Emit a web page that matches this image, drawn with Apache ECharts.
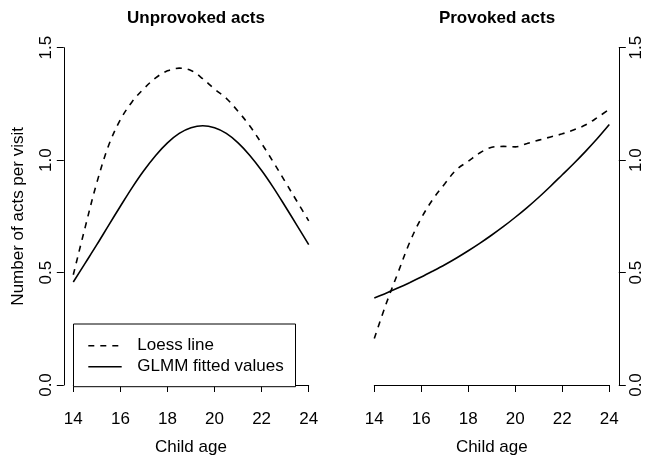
<!DOCTYPE html>
<html><head><meta charset="utf-8">
<script src="https://cdn.jsdelivr.net/npm/echarts@6/dist/echarts.min.js"></script>
<style>html,body{margin:0;padding:0;background:#fff}#c{width:647px;height:461px}</style>
</head><body><div id="c"></div>
<script>
// ---- data ----
const ages = [14,14.5,15,15.5,16,16.5,17,17.5,18,18.5,19,19.5,20,20.5,21,21.5,22,22.5,23,23.5,24];
const unprovokedLoess = [0.49,0.70,0.90,1.065,1.18,1.26,1.318,1.366,1.397,1.409,1.399,1.362,1.316,1.275,1.217,1.152,1.074,0.991,0.904,0.817,0.73];
const unprovokedGLMM  = [0.458,0.541,0.624,0.710,0.795,0.878,0.954,1.021,1.077,1.119,1.144,1.153,1.144,1.119,1.077,1.021,0.954,0.878,0.795,0.710,0.624];
const provokedLoess   = [0.207,0.36,0.497,0.633,0.742,0.827,0.895,0.958,0.995,1.033,1.057,1.061,1.059,1.074,1.089,1.103,1.117,1.135,1.157,1.19,1.226];
const provokedGLMM    = [0.387,0.408,0.431,0.455,0.480,0.507,0.535,0.565,0.597,0.631,0.667,0.705,0.746,0.789,0.835,0.884,0.935,0.986,1.040,1.097,1.158];
const xMin = 14, xMax = 24, xStep = 2;
const yMin = 0, yMax = 1.5, yStep = 0.5;
const yTickLabels = ['0.0','0.5','1.0','1.5'];
const panelTitles = ['Unprovoked acts','Provoked acts'];
const xAxisTitle = 'Child age';
const yAxisTitle = 'Number of acts per visit';
const legendLabels = ['Loess line','GLMM fitted values'];

const FONT = '"Liberation Sans", Arial, Helvetica, sans-serif';
const FS = 17;
const pairs = (ys) => ages.map((a, i) => [a, ys[i]]);

const chart = echarts.init(document.getElementById('c'), null, {renderer: 'canvas'});

const axisLineStyle = {show: true, lineStyle: {color: '#000', width: 1}};
const xAxisCommon = {
  type: 'value', min: xMin, max: xMax, interval: xStep,
  offset: 15,
  axisLine: axisLineStyle,
  axisTick: {show: true, length: 7, lineStyle: {color: '#000', width: 1}},
  axisLabel: {color: '#000', fontSize: FS, fontFamily: FONT, margin: 11},
  splitLine: {show: false},
  name: xAxisTitle, nameLocation: 'middle', nameGap: 39,
  nameTextStyle: {color: '#000', fontSize: FS, fontFamily: FONT}
};
const yAxisCommon = {
  type: 'value', min: yMin, max: yMax, interval: yStep,
  offset: 9.5,
  axisLine: axisLineStyle,
  axisTick: {show: true, length: 7, lineStyle: {color: '#000', width: 1}},
  axisLabel: {color: '#000', fontSize: FS, fontFamily: FONT, rotate: 90, margin: 9,
    formatter: (v) => yTickLabels[Math.round((v - yMin) / yStep)]},
  splitLine: {show: false}
};

const lineSeries = (ys, xi, dashed) => ({
  type: 'line', xAxisIndex: xi, yAxisIndex: xi, data: pairs(ys),
  smooth: 0.35, symbol: 'none', clip: false, silent: true,
  lineStyle: {color: '#000', width: 1.6, type: dashed ? [6, 6] : 'solid'}
});

chart.setOption({
  animation: false,
  backgroundColor: '#fff',
  title: [
    {text: panelTitles[0], left: 191, top: 5, textAlign: 'center',
     textStyle: {fontSize: FS, fontWeight: 'bold', fontFamily: FONT, color: '#000'}},
    {text: panelTitles[1], left: 492, top: 5, textAlign: 'center',
     textStyle: {fontSize: FS, fontWeight: 'bold', fontFamily: FONT, color: '#000'}}
  ],
  grid: [
    {left: 73.3, width: 235.4, top: 47.7, height: 339, containLabel: false},
    {left: 374.3, width: 235, top: 47.7, height: 339, containLabel: false}
  ],
  xAxis: [
    Object.assign({gridIndex: 0}, xAxisCommon),
    Object.assign({gridIndex: 1}, xAxisCommon)
  ],
  yAxis: [
    Object.assign({gridIndex: 0, position: 'left', name: yAxisTitle, nameLocation: 'middle', nameGap: 37,
      nameTextStyle: {color: '#000', fontSize: FS, fontFamily: FONT}}, yAxisCommon),
    Object.assign({gridIndex: 1, position: 'right'}, yAxisCommon)
  ],
  series: [
    lineSeries(unprovokedLoess, 0, true),
    lineSeries(unprovokedGLMM, 0, false),
    lineSeries(provokedLoess, 1, true),
    lineSeries(provokedGLMM, 1, false)
  ],
  graphic: [
    {type: 'rect', shape: {x: 73.5, y: 324, width: 222, height: 62.7},
     style: {fill: '#fff', stroke: '#000', lineWidth: 1}, z: 10},
    {type: 'line', shape: {x1: 88.3, y1: 345.7, x2: 121.7, y2: 345.7},
     style: {stroke: '#000', lineWidth: 1.6, lineDash: [6, 6]}, z: 11},
    {type: 'line', shape: {x1: 88.3, y1: 366.7, x2: 121.7, y2: 366.7},
     style: {stroke: '#000', lineWidth: 1.6}, z: 11},
    {type: 'text', x: 137.3, y: 345.7, z: 11,
     style: {text: legendLabels[0], font: FS + 'px ' + FONT, fill: '#000', verticalAlign: 'middle'}},
    {type: 'text', x: 137.3, y: 366.7, z: 11,
     style: {text: legendLabels[1], font: FS + 'px ' + FONT, fill: '#000', verticalAlign: 'middle'}}
  ]
});
</script></body></html>
